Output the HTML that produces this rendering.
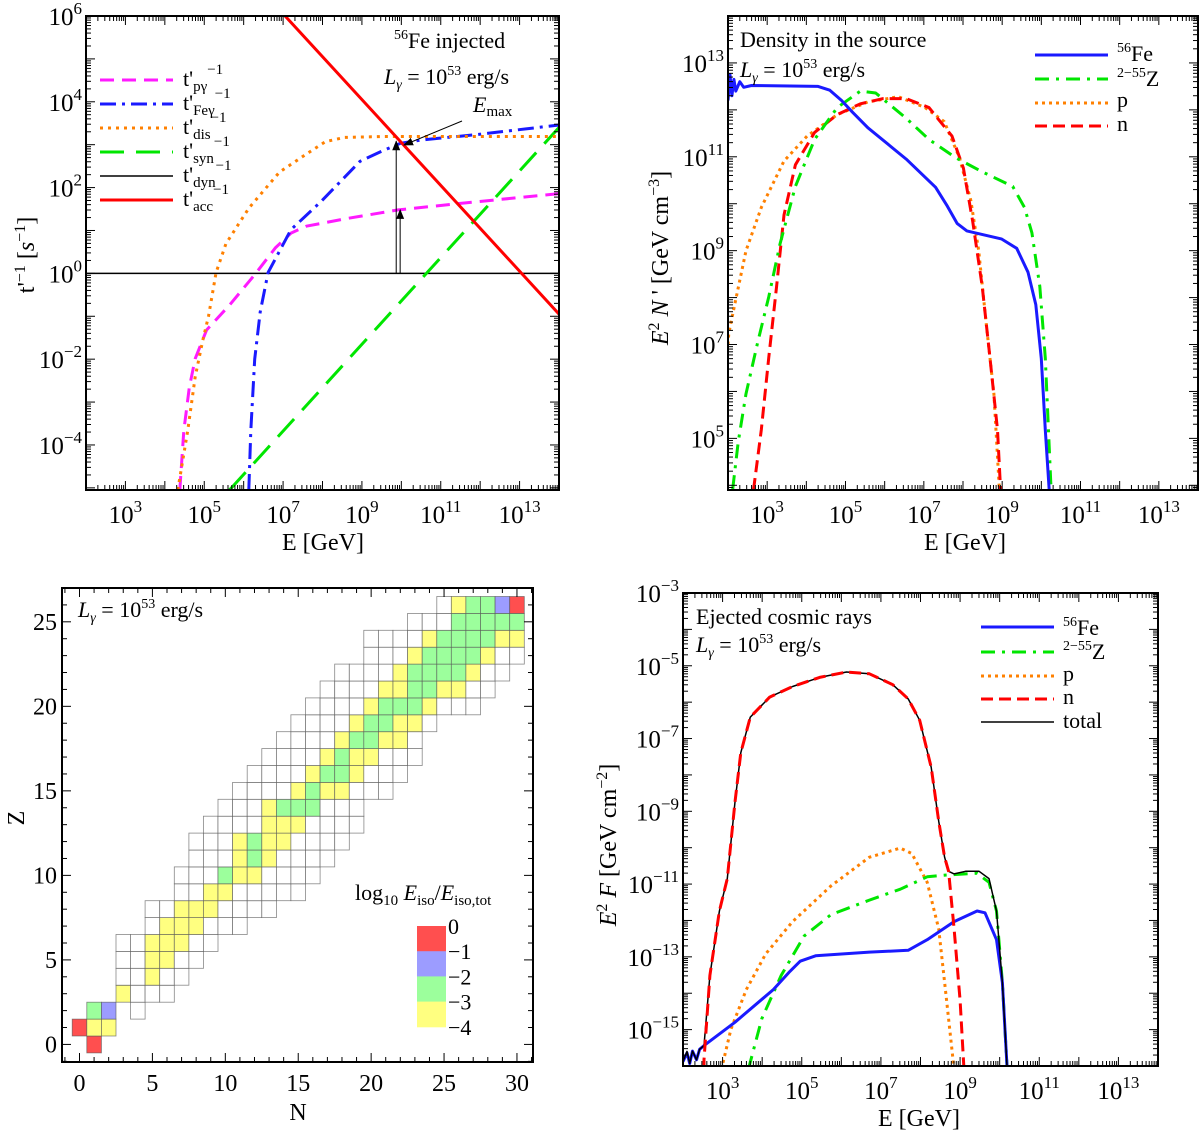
<!DOCTYPE html>
<html><head><meta charset="utf-8"><style>
html,body{margin:0;padding:0;background:#fff;}
svg{display:block;font-family:"Liberation Serif",serif;}
</style></head><body>
<svg id="fig" width="1200" height="1131" viewBox="0 0 1200 1131" xmlns="http://www.w3.org/2000/svg">
<defs>
<clipPath id="clipTL"><rect x="86" y="16" width="473" height="474"/></clipPath>
<clipPath id="clipTR"><rect x="728" y="16" width="470" height="474"/></clipPath>
<clipPath id="clipBR"><rect x="683" y="593" width="475" height="473"/></clipPath>
<marker id="arr" markerWidth="10" markerHeight="10" refX="9" refY="5" orient="auto" markerUnits="userSpaceOnUse"><path d="M0,1 L10,5 L0,9 z" fill="#000"/></marker>
</defs>
<g id="gTL"></g>
<g id="gTR"></g>
<g id="gBL"></g>
<g id="gBR"></g>

<!-- TL texts -->
<text x="394" y="48" font-size="22"><tspan font-size="14" dy="-9">56</tspan><tspan dy="9">Fe injected</tspan></text>
<text x="384" y="84" font-size="22"><tspan font-style="italic">L</tspan><tspan font-style="italic" font-size="14" dy="5">γ</tspan><tspan dy="-5"> = 10</tspan><tspan font-size="14" dy="-9">53</tspan><tspan dy="9"> erg/s</tspan></text>
<text x="473" y="112" font-size="22" font-style="italic">E<tspan font-size="15" dy="4" font-style="normal">max</tspan></text>
<line x1="462" y1="121" x2="404" y2="145" stroke="#000" stroke-width="1" marker-end="url(#arr)"/>
<g font-size="22">
<line x1="100" y1="80" x2="173" y2="80" stroke="#ff1aff" stroke-width="3" stroke-dasharray="14,8"/>
<text x="183" y="86">t'<tspan font-size="15" dy="5">pγ</tspan><tspan font-size="15" dy="-17">−1</tspan></text>
<line x1="100" y1="104" x2="173" y2="104" stroke="#1a1aff" stroke-width="3" stroke-dasharray="16,6,3,6"/>
<text x="183" y="110">t'<tspan font-size="15" dy="5">Feγ</tspan><tspan font-size="15" dy="-17">−1</tspan></text>
<line x1="100" y1="128" x2="173" y2="128" stroke="#ff8000" stroke-width="3" stroke-dasharray="3,5"/>
<text x="183" y="134">t'<tspan font-size="15" dy="5">dis</tspan><tspan font-size="15" dy="-17">−1</tspan></text>
<line x1="100" y1="152" x2="173" y2="152" stroke="#00e600" stroke-width="3" stroke-dasharray="24,12"/>
<text x="183" y="158">t'<tspan font-size="15" dy="5">syn</tspan><tspan font-size="15" dy="-17">−1</tspan></text>
<line x1="100" y1="176" x2="173" y2="176" stroke="#000" stroke-width="1.5"/>
<text x="183" y="182">t'<tspan font-size="15" dy="5">dyn</tspan><tspan font-size="15" dy="-17">−1</tspan></text>
<line x1="100" y1="200" x2="173" y2="200" stroke="#ff0000" stroke-width="3"/>
<text x="183" y="206">t'<tspan font-size="15" dy="5">acc</tspan><tspan font-size="15" dy="-17">−1</tspan></text>
</g>
<text transform="translate(34,255) rotate(-90)" text-anchor="middle" font-size="24">t'<tspan font-size="16" dy="-9">−1</tspan><tspan dy="9"> [</tspan><tspan font-style="italic">s</tspan><tspan font-size="16" dy="-9">−1</tspan><tspan dy="9">]</tspan></text>
<text x="323" y="550" text-anchor="middle" font-size="24">E [GeV]</text>

<!-- TR texts -->
<text x="740" y="47" font-size="22">Density in the source</text>
<text x="740" y="77" font-size="22"><tspan font-style="italic">L</tspan><tspan font-style="italic" font-size="14" dy="5">γ</tspan><tspan dy="-5"> = 10</tspan><tspan font-size="14" dy="-9">53</tspan><tspan dy="9"> erg/s</tspan></text>
<g font-size="22">
<line x1="1035" y1="55" x2="1108" y2="55" stroke="#1a1aff" stroke-width="3"/>
<text x="1117" y="61"><tspan font-size="14" dy="-9">56</tspan><tspan dy="9">Fe</tspan></text>
<line x1="1035" y1="79" x2="1108" y2="79" stroke="#00e600" stroke-width="3" stroke-dasharray="14,7,3,7"/>
<text x="1117" y="86"><tspan font-size="14" dy="-9">2−55</tspan><tspan dy="9">Z</tspan></text>
<line x1="1035" y1="103" x2="1108" y2="103" stroke="#ff8000" stroke-width="3" stroke-dasharray="3,4"/>
<text x="1117" y="107">p</text>
<line x1="1035" y1="126" x2="1108" y2="126" stroke="#ff0000" stroke-width="3" stroke-dasharray="12,6"/>
<text x="1117" y="131">n</text>
</g>
<text transform="translate(668,258) rotate(-90)" text-anchor="middle" font-size="24"><tspan font-style="italic">E</tspan><tspan font-size="16" dy="-9">2</tspan><tspan dy="9" font-style="italic"> N</tspan><tspan> ' [GeV cm</tspan><tspan font-size="16" dy="-9">−3</tspan><tspan dy="9">]</tspan></text>
<text x="965" y="550" text-anchor="middle" font-size="24">E [GeV]</text>

<!-- BL texts -->
<text x="78" y="617" font-size="22"><tspan font-style="italic">L</tspan><tspan font-style="italic" font-size="14" dy="5">γ</tspan><tspan dy="-5"> = 10</tspan><tspan font-size="14" dy="-9">53</tspan><tspan dy="9"> erg/s</tspan></text>
<text x="355" y="900" font-size="22">log<tspan font-size="15" dy="5">10</tspan><tspan dy="-5" font-style="italic"> E</tspan><tspan font-size="15" dy="5">iso</tspan><tspan dy="-5">/</tspan><tspan font-style="italic">E</tspan><tspan font-size="15" dy="5">iso,tot</tspan></text>
<text x="298" y="1120" text-anchor="middle" font-size="24">N</text>
<text transform="translate(24,818) rotate(-90)" text-anchor="middle" font-size="24">Z</text>

<!-- BR texts -->
<text x="696" y="624" font-size="22">Ejected cosmic rays</text>
<text x="696" y="652" font-size="22"><tspan font-style="italic">L</tspan><tspan font-style="italic" font-size="14" dy="5">γ</tspan><tspan dy="-5"> = 10</tspan><tspan font-size="14" dy="-9">53</tspan><tspan dy="9"> erg/s</tspan></text>
<g font-size="22">
<line x1="981" y1="627" x2="1054" y2="627" stroke="#1a1aff" stroke-width="3"/>
<text x="1063" y="635"><tspan font-size="14" dy="-9">56</tspan><tspan dy="9">Fe</tspan></text>
<line x1="981" y1="652" x2="1054" y2="652" stroke="#00e600" stroke-width="3" stroke-dasharray="14,7,3,7"/>
<text x="1063" y="659"><tspan font-size="14" dy="-9">2−55</tspan><tspan dy="9">Z</tspan></text>
<line x1="981" y1="676" x2="1054" y2="676" stroke="#ff8000" stroke-width="3" stroke-dasharray="3,4"/>
<text x="1063" y="681">p</text>
<line x1="981" y1="699" x2="1054" y2="699" stroke="#ff0000" stroke-width="3" stroke-dasharray="12,6"/>
<text x="1063" y="704">n</text>
<line x1="981" y1="722" x2="1054" y2="722" stroke="#000" stroke-width="1.5"/>
<text x="1063" y="728">total</text>
</g>
<text transform="translate(616,845) rotate(-90)" text-anchor="middle" font-size="24"><tspan font-style="italic">E</tspan><tspan font-size="16" dy="-9">2</tspan><tspan dy="9" font-style="italic"> F</tspan><tspan> [GeV cm</tspan><tspan font-size="16" dy="-9">−2</tspan><tspan dy="9">]</tspan></text>
<text x="919" y="1126" text-anchor="middle" font-size="24">E [GeV]</text>
</svg>
<script>
// ===== data (log10 E, log10 value) =====
const tlXLabels = [3,5,7,9,11,13];
const tlYLabels = [6,4,2,0,-2,-4];
const tlAcc = [[7.05,6],[14,-0.95]];
const tlDyn = [[2,0],[14,0]];
const tlSyn = [[5.64,-5.05],[14,3.4]];
const tlPg = [[4.38,-5.05],[4.48,-3.67],[4.62,-2.66],[4.77,-1.99],[5.06,-1.32],[5.64,-0.74],[6.28,-0.03],[6.81,0.6],[7.2,0.94],[7.59,1.1],[8.56,1.27],[9.92,1.48],[11.47,1.63],[14,1.86]];
const tlFeg = [[6.13,-5.05],[6.18,-3.67],[6.28,-2],[6.42,-0.9],[6.62,0.02],[7.2,1.02],[7.98,1.69],[8.95,2.61],[9.53,2.86],[9.97,3.03],[10.5,3.11],[11.96,3.24],[14,3.46]];
const tlDis = [[4.33,-5.05],[4.58,-3.67],[4.77,-2.41],[4.96,-1.57],[5.11,-0.99],[5.3,0.02],[5.55,0.69],[6.13,1.52],[6.91,2.36],[7.59,2.78],[8.07,3.07],[8.56,3.17],[9.53,3.19],[14,3.19]];
const tlArrows = [[9.87,0,3.08],[9.97,0,1.48]];

const trXLabels = [3,5,7,9,11,13];
const trYLabels = [13,11,9,7,5];
const trFe = [[2.0,12.2],[2.05,12.75],[2.1,12.3],[2.15,12.65],[2.2,12.4],[2.3,12.6],[2.4,12.48],[2.6,12.52],[4.3,12.5],[4.6,12.42],[4.9,12.2],[5.18,11.95],[5.57,11.62],[6.55,10.95],[7.3,10.35],[7.6,9.95],[7.85,9.58],[8.1,9.42],[8.98,9.25],[9.37,9.05],[9.66,8.54],[9.86,7.85],[10,6.7],[10.1,5.18],[10.2,3.9]];
const trZ = [[2.12,3.92],[2.26,4.92],[2.46,5.95],[2.75,7.02],[3.04,8.01],[3.33,9.15],[3.72,10.37],[4.21,11.37],[4.79,12.05],[5.38,12.4],[5.77,12.36],[6.55,11.82],[7.13,11.37],[7.81,10.98],[8.49,10.68],[9.27,10.37],[9.57,9.92],[9.76,9.38],[9.96,8.24],[10.1,6.71],[10.25,3.9]];
const trP = [[2.0,7.0],[2.02,7.24],[2.17,7.85],[2.46,9.0],[2.85,9.92],[3.43,10.91],[4.02,11.44],[4.79,11.9],[5.57,12.17],[6.35,12.28],[7.03,12.05],[7.52,11.75],[7.91,10.98],[8.2,10.07],[8.4,9.0],[8.59,7.47],[8.79,5.95],[8.93,3.9]];
const trN = [[2.65,3.9],[2.85,5.18],[3.04,6.71],[3.24,8.24],[3.43,9.76],[3.72,10.83],[4.21,11.52],[4.79,11.9],[5.38,12.13],[5.96,12.24],[6.55,12.24],[7.13,12.05],[7.72,11.44],[8.01,10.76],[8.25,9.61],[8.49,8.24],[8.69,6.71],[8.88,5.18],[8.96,3.9]];

const brXLabels = [3,5,7,9,11,13];
const brYLabels = [-3,-5,-7,-9,-11,-13,-15];
const brN = [[2.53,-16.1],[2.53,-15.83],[2.68,-13.51],[2.92,-11.74],[3.12,-10.85],[3.31,-8.77],[3.46,-7.39],[3.7,-6.41],[4.19,-5.86],[4.77,-5.57],[5.45,-5.32],[6.13,-5.17],[6.71,-5.22],[7.3,-5.52],[7.69,-5.91],[7.98,-6.5],[8.27,-7.79],[8.46,-9.27],[8.61,-10.26],[8.71,-10.65],[8.85,-12.23],[9.0,-14.2],[9.1,-16.1]];
const brTotal = [[2.0,-15.88],[2.1,-15.6],[2.17,-15.93],[2.24,-15.59],[2.34,-15.83],[2.42,-15.54],[2.53,-15.44],[2.68,-13.51],[2.92,-11.74],[3.12,-10.85],[3.31,-8.77],[3.46,-7.39],[3.7,-6.41],[4.19,-5.86],[4.77,-5.57],[5.45,-5.32],[6.13,-5.17],[6.71,-5.22],[7.3,-5.52],[7.69,-5.91],[7.98,-6.5],[8.27,-7.79],[8.46,-9.27],[8.61,-10.26],[8.71,-10.65],[8.85,-10.72],[9.14,-10.65],[9.48,-10.65],[9.73,-10.85],[9.92,-11.74],[10.07,-13.71],[10.19,-16.1]];
const brZ = [[3.65,-16.1],[3.99,-14.7],[4.48,-13.51],[5.06,-12.43],[5.74,-11.84],[6.71,-11.44],[7.49,-11.14],[8.17,-10.8],[8.66,-10.75],[9.43,-10.7],[9.73,-10.95],[9.92,-11.74],[10.07,-13.71],[10.19,-16.1]];
const brP = [[2.97,-16.1],[3.21,-14.99],[3.6,-13.9],[4.09,-12.92],[4.77,-12.03],[5.74,-11.05],[6.71,-10.26],[7.49,-10.01],[7.78,-10.16],[8.17,-10.95],[8.46,-12.23],[8.66,-14.2],[8.85,-16.1]];
const brFe = [[2.0,-15.88],[2.1,-15.64],[2.17,-15.93],[2.24,-15.59],[2.34,-15.83],[2.42,-15.54],[2.53,-15.44],[3.31,-14.8],[4.28,-13.9],[4.7,-13.4],[4.96,-13.12],[5.35,-12.97],[6.71,-12.87],[7.69,-12.82],[8.17,-12.53],[8.85,-12.03],[9.43,-11.74],[9.63,-11.79],[9.92,-12.53],[10.07,-13.71],[10.19,-16.1]];

// nuclide chart: Z rows, starting N, log10 Eiso/Eiso,tot (null = no cell, -5 = below scale)
const R=-0.5, B=-1.5, G=-2.5, Y=-3.5, E=-5;
const heatZ = [0,1,2,3,4,5,6,7,8,9,10,11,12,13,14,15,16,17,18,19,20,21,22,23,24,25,26];
const heatStartN = [1,0,1,3,3,3,3,5,5,7,7,8,8,9,10,11,12,13,14,15,16,17,18,20,20,23,25];
const heatVals = [
 [R],[R,Y,Y],[G,B,null,E],[Y,E,E,E],[E,E,Y,E,E],[E,E,Y,Y,E,E],[E,E,Y,Y,Y,E,E],
 [E,Y,Y,Y,E,E,E],[E,E,Y,Y,Y,E,E,E,E],[E,E,Y,Y,E,E,E,E,E],[E,E,E,G,Y,Y,E,E,E,E],
 [E,E,E,Y,G,Y,E,E,E,E],[E,E,E,Y,G,Y,Y,E,E,E,E],[E,E,E,E,Y,Y,Y,E,E,E,E],[E,E,E,Y,G,G,G,E,E,E],
 [E,E,E,E,Y,G,Y,Y,E,E,E],[E,E,E,E,Y,G,G,Y,E,E,E],[E,E,E,E,Y,G,Y,Y,E,E,E],[E,E,E,E,Y,G,G,Y,Y,E],
 [E,E,E,E,Y,G,G,Y,Y,E],[E,E,E,E,Y,G,G,G,Y,E,E,E],[E,E,E,E,Y,Y,G,G,Y,Y,E,E],[E,E,E,E,Y,G,G,G,G,Y,E,E],
 [E,E,E,Y,G,G,G,G,Y,E,E],[E,E,E,E,Y,G,G,G,G,Y,Y],[E,E,E,G,G,G,G,G],[E,Y,G,G,B,R]];
const cbLevels = [0,-1,-2,-3,-4];
const blXTicks = [0,5,10,15,20,25,30];
const blYTicks = [0,5,10,15,20,25];

// ===== helpers =====
const NS='http://www.w3.org/2000/svg';
function mk(tag,parent){const e=document.createElementNS(NS,tag);parent.appendChild(e);return e;}
function axis(P){
  P.sx=v=>P.x0+(v-P.xmin)/(P.xmax-P.xmin)*(P.x1-P.x0);
  P.sy=v=>P.y1-(v-P.ymin)/(P.ymax-P.ymin)*(P.y1-P.y0);
  return P;
}
function tick(g,x1,y1,x2,y2){
  const l=mk('line',g);
  
  
  l.setAttribute('x1',x1);l.setAttribute('y1',y1);l.setAttribute('x2',x2);l.setAttribute('y2',y2);
  l.setAttribute('stroke','#000');l.setAttribute('stroke-width','1');
}
function frame(g,P){
  const r=mk('rect',g);
  
  
  r.setAttribute('x',P.x0);r.setAttribute('y',P.y0);r.setAttribute('width',P.x1-P.x0);r.setAttribute('height',P.y1-P.y0);
  r.setAttribute('fill','none');r.setAttribute('stroke','#000');r.setAttribute('stroke-width','2');
}
function logTicks(g,P){
  for(let d=Math.floor(P.xmin);d<=Math.ceil(P.xmax);d++){
    for(let k=1;k<10;k++){const v=d+Math.log10(k);if(v<P.xmin||v>P.xmax)continue;
      const x=P.sx(v),L=k===1?9:5;tick(g,x,P.y1,x,P.y1-L);tick(g,x,P.y0,x,P.y0+L);}
  }
  for(let d=Math.floor(P.ymin);d<=Math.ceil(P.ymax);d++){
    for(let k=1;k<10;k++){const v=d+Math.log10(k);if(v<P.ymin||v>P.ymax)continue;
      const y=P.sy(v),L=k===1?9:5;tick(g,P.x0,y,P.x0+L,y);tick(g,P.x1,y,P.x1-L,y);}
  }
}
function powLabel(g,x,y,exp,anchor){
  const t=mk('text',g);
  
  
  t.setAttribute('x',x);t.setAttribute('y',y);t.setAttribute('font-size','25');t.setAttribute('text-anchor',anchor);
  t.textContent='10';
  const s=mk('tspan',t);s.setAttribute('font-size','17');s.setAttribute('dy','-11');
  s.textContent=(exp<0?'−':'')+Math.abs(exp);
}
function labels(g,P,xl,yl){
  xl.forEach(e=>powLabel(g,P.sx(e),P.y1+33,e,'middle'));
  yl.forEach(e=>powLabel(g,P.x0-4,P.sy(e)+9,e,'end'));
}
function series(g,P,pts,color,w,dash,clip,name){
  const p=mk('path',g);
  
  
  p.setAttribute('d',pts.map((q,i)=>(i?'L':'M')+P.sx(q[0]).toFixed(1)+','+P.sy(q[1]).toFixed(1)).join(''));
  p.setAttribute('fill','none');p.setAttribute('stroke',color);p.setAttribute('stroke-width',w);
  p.setAttribute('stroke-linejoin','round');
  if(dash)p.setAttribute('stroke-dasharray',dash);
  p.setAttribute('clip-path','url(#'+clip+')');
}

// ===== TL =====
const PTL=axis({x0:86,x1:559,y0:16,y1:490,xmin:2,xmax:14,ymin:-5.05,ymax:6});
const gTL=document.getElementById('gTL');
series(gTL,PTL,tlDyn,'#000',1.5,null,'clipTL','dyn-line');
series(gTL,PTL,tlSyn,'#00e600',3,'24,12','clipTL','syn-line');
series(gTL,PTL,tlPg,'#ff1aff',3,'14,8','clipTL','pgamma-line');
series(gTL,PTL,tlFeg,'#1a1aff',3,'16,6,3,6','clipTL','fegamma-line');
series(gTL,PTL,tlDis,'#ff8000',3,'3,5','clipTL','dis-line');
series(gTL,PTL,tlAcc,'#ff0000',3,null,'clipTL','acc-line');
tlArrows.forEach(a=>{
  const l=mk('line',gTL);
  
  
  l.setAttribute('x1',PTL.sx(a[0]));l.setAttribute('x2',PTL.sx(a[0]));
  l.setAttribute('y1',PTL.sy(a[1]));l.setAttribute('y2',PTL.sy(a[2]));
  l.setAttribute('stroke','#000');l.setAttribute('stroke-width','1');l.setAttribute('marker-end','url(#arr)');
});
frame(gTL,PTL);logTicks(gTL,PTL);labels(gTL,PTL,tlXLabels,tlYLabels);

// ===== TR =====
const PTR=axis({x0:728,x1:1198,y0:16,y1:490,xmin:2,xmax:14,ymin:3.9,ymax:14});
const gTR=document.getElementById('gTR');
series(gTR,PTR,trP,'#ff8000',3,'3,4','clipTR','p-density-line');
series(gTR,PTR,trN,'#ff0000',3,'12,6','clipTR','n-density-line');
series(gTR,PTR,trZ,'#00e600',3,'14,7,3,7','clipTR','z-density-line');
series(gTR,PTR,trFe,'#1a1aff',3,null,'clipTR','fe-density-line');
frame(gTR,PTR);logTicks(gTR,PTR);labels(gTR,PTR,trXLabels,trYLabels);

// ===== BR =====
const PBR=axis({x0:683,x1:1158,y0:593,y1:1066,xmin:2,xmax:14,ymin:-16,ymax:-3});
const gBR=document.getElementById('gBR');
series(gBR,PBR,brP,'#ff8000',3,'3,4','clipBR','p-flux-line');
series(gBR,PBR,brZ,'#00e600',3,'14,7,3,7','clipBR','z-flux-line');
series(gBR,PBR,brFe,'#1a1aff',3,null,'clipBR','fe-flux-line');
series(gBR,PBR,brTotal,'#000',1.5,null,'clipBR','total-flux-line');
series(gBR,PBR,brN,'#ff0000',3,'12,6','clipBR','n-flux-line');
frame(gBR,PBR);logTicks(gBR,PBR);labels(gBR,PBR,brXLabels,brYLabels);

// ===== BL nuclide chart =====
const PBL=axis({x0:62,x1:533,y0:588,y1:1062,xmin:-1.2,xmax:31.1,ymin:-1.04,ymax:27.0});
const gBL=document.getElementById('gBL');
function heatColor(v){ if(v>-1)return '#ff4f4f'; if(v>-2)return '#9c9cff'; if(v>-3)return '#9cff9c'; if(v>-4)return '#ffff80'; return '#ffffff'; }
heatZ.forEach((z,i)=>{
  heatVals[i].forEach((v,j)=>{
    if(v===null)return;
    const n=heatStartN[i]+j;
    const r=mk('rect',gBL);
    
    
    const xa=PBL.sx(n-0.5),xb=PBL.sx(n+0.5),ya=PBL.sy(z+0.5),yb=PBL.sy(z-0.5);
    r.setAttribute('x',xa.toFixed(1));r.setAttribute('y',ya.toFixed(1));
    r.setAttribute('width',(xb-xa).toFixed(1));r.setAttribute('height',(yb-ya).toFixed(1));
    r.setAttribute('fill',heatColor(v));r.setAttribute('stroke','#555');r.setAttribute('stroke-width','0.8');r.setAttribute('stroke-opacity','0.7');
  });
});
frame(gBL,PBL);
for(let n=-1;n<=31;n++){const x=PBL.sx(n),L=n%5===0?9:5;tick(gBL,x,PBL.y1,x,PBL.y1-L);tick(gBL,x,PBL.y0,x,PBL.y0+L);}
for(let z=-1;z<=27;z++){const y=PBL.sy(z),L=z%5===0?9:5;tick(gBL,PBL.x0,y,PBL.x0+L,y);tick(gBL,PBL.x1,y,PBL.x1-L,y);}
blXTicks.forEach(n=>{const t=mk('text',gBL);
  
  
  t.setAttribute('x',PBL.sx(n));t.setAttribute('y',PBL.y1+29);t.setAttribute('font-size','24');t.setAttribute('text-anchor','middle');t.textContent=n;});
blYTicks.forEach(z=>{const t=mk('text',gBL);
  
  
  t.setAttribute('x',PBL.x0-5);t.setAttribute('y',PBL.sy(z)+8);t.setAttribute('font-size','24');t.setAttribute('text-anchor','end');t.textContent=z;});
// colorbar
const cbX=417,cbW=29,cbTop=926,cbStep=25.2;
cbLevels.forEach((lv,i)=>{
  if(i<cbLevels.length-1){
    const r=mk('rect',gBL);
    
    
    r.setAttribute('x',cbX);r.setAttribute('y',cbTop+i*cbStep);r.setAttribute('width',cbW);r.setAttribute('height',cbStep+0.5);
    r.setAttribute('fill',heatColor(lv-0.5));
  }
  const t=mk('text',gBL);
  
  
  t.setAttribute('x',cbX+cbW+2);t.setAttribute('y',cbTop+i*cbStep+8);t.setAttribute('font-size','22');
  t.textContent=lv===0?'0':'−'+Math.abs(lv);
});
</script>
</body></html>
